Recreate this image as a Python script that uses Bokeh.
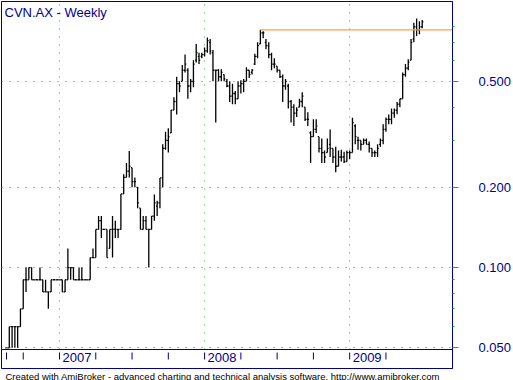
import pandas as pd
from bokeh.plotting import figure
from bokeh.models import Range1d, FixedTicker, Span, Label, PrintfTickFormatter, ColumnDataSource, Title
from bokeh.embed import file_html
from bokeh.resources import INLINE
from bokeh.core.properties import value

title_text = "CVN.AX - Weekly"
footer_text = "Created with AmiBroker - advanced charting and technical analysis software. http://www.amibroker.com"
first_week = "2006-08-25"

opens = [.050, .050, .060, .060, .060, .060, .070, .090, .090, .100,
         .090, .090, .090, .090, .081, .081, .081, .090, .090, .090,
         .090, .081, .090, .100, .100, .090, .090, .090, .090, .090,
         .090, .109, .109, .139, .150, .139, .139, .118, .139, .139,
         .139, .139, .189, .218, .230, .237, .210, .200, .167, .139,
         .150, .139, .139, .156, .170, .175, .217, .280, .300, .320,
         .390, .420, .490, .500, .550, .550, .480, .500, .600, .620,
         .620, .630, .650, .700, .640, .550, .550, .520, .530, .500,
         .480, .440, .450, .430, .480, .490, .500, .550, .540, .580,
         .620, .690, .760, .700, .680, .630, .580, .570, .550, .520,
         .480, .480, .420, .400, .380, .400, .420, .400, .360, .320,
         .310, .330, .310, .280, .270, .270, .290, .280, .260, .240,
         .260, .260, .250, .270, .270, .340, .300, .300, .290, .300,
         .290, .280, .270, .270, .290, .300, .330, .360, .360, .380,
         .390, .410, .430, .530, .560, .600, .720, .800, .780, .800]
highs = [.050, .060, .060, .060, .060, .070, .090, .100, .100, .100,
         .090, .090, .100, .090, .090, .081, .090, .090, .090, .090,
         .090, .090, .118, .100, .100, .090, .100, .100, .090, .090,
         .109, .118, .139, .156, .156, .139, .139, .139, .156, .150,
         .139, .189, .224, .247, .274, .237, .218, .200, .167, .156,
         .156, .139, .156, .188, .178, .217, .290, .323, .333, .390,
         .436, .520, .500, .575, .630, .560, .510, .600, .690, .640,
         .640, .670, .730, .720, .655, .550, .555, .555, .530, .510,
         .500, .490, .460, .500, .505, .510, .564, .550, .555, .635,
         .700, .780, .770, .720, .700, .640, .610, .570, .550, .530,
         .510, .490, .425, .410, .400, .430, .455, .400, .383, .325,
         .360, .360, .310, .305, .275, .305, .330, .280, .284, .275,
         .277, .272, .275, .275, .365, .345, .310, .300, .305, .305,
         .297, .280, .275, .290, .305, .345, .366, .375, .395, .395,
         .418, .430, .540, .580, .605, .720, .830, .860, .840, .850]
lows = [.050, .050, .050, .050, .050, .060, .070, .081, .090, .090,
        .090, .090, .090, .081, .081, .070, .081, .090, .090, .090,
        .081, .081, .090, .090, .090, .090, .090, .090, .090, .090,
        .090, .109, .109, .139, .129, .139, .109, .118, .109, .129,
        .129, .139, .189, .218, .218, .200, .200, .167, .139, .139,
        .139, .100, .139, .150, .156, .167, .200, .277, .270, .320,
        .390, .375, .455, .500, .540, .430, .455, .475, .588, .580,
        .610, .620, .640, .630, .500, .350, .500, .500, .500, .475,
        .418, .410, .410, .430, .450, .455, .500, .515, .530, .575,
        .610, .690, .725, .660, .610, .550, .560, .540, .515, .418,
        .465, .395, .350, .340, .367, .400, .400, .355, .340, .247,
        .310, .320, .270, .247, .247, .270, .260, .247, .228, .240,
        .250, .247, .250, .255, .270, .290, .277, .275, .290, .290,
        .270, .260, .260, .260, .284, .290, .323, .345, .345, .365,
        .376, .400, .430, .520, .550, .600, .700, .740, .750, .790]
closes = [.050, .060, .060, .060, .060, .070, .090, .090, .100, .090,
          .090, .090, .090, .081, .081, .081, .090, .090, .090, .090,
          .081, .090, .100, .100, .090, .090, .090, .090, .090, .090,
          .109, .109, .139, .150, .139, .139, .109, .139, .139, .139,
          .139, .189, .218, .230, .240, .210, .210, .175, .139, .150,
          .139, .139, .156, .175, .175, .217, .280, .300, .310, .390,
          .420, .490, .480, .550, .580, .480, .500, .580, .640, .600,
          .630, .650, .710, .650, .550, .550, .520, .540, .510, .480,
          .440, .450, .430, .480, .490, .500, .550, .530, .550, .620,
          .680, .760, .760, .680, .630, .580, .580, .550, .520, .480,
          .500, .420, .400, .380, .390, .420, .440, .360, .360, .310,
          .330, .340, .280, .270, .260, .280, .280, .260, .240, .260,
          .260, .250, .270, .270, .350, .310, .300, .290, .300, .290,
          .280, .270, .270, .280, .300, .330, .360, .360, .380, .390,
          .410, .430, .530, .560, .590, .700, .800, .780, .800, .835]

price_ticks = [0.05, 0.1, 0.2, 0.5]
price_minor = [0.06, 0.07, 0.08, 0.09, 0.3, 0.4, 0.6, 0.7, 0.8]
quarter_starts = ["2006-10-01", "2007-01-01", "2007-04-01", "2007-07-01", "2007-10-01",
                  "2008-01-01", "2008-04-01", "2008-07-01", "2008-10-01", "2009-01-01",
                  "2009-04-01"]

NAVY = "#00008B"
GREEN = "#00C000"
FONT = "Liberation Sans"

dates = pd.date_range(first_week, periods=len(closes), freq="7D")

# layout: 2.79 px per week, frame 451 x 367 px, log scale 266.5 px per decade
px_week = 2.79
frame_w, frame_h = 451, 367
week = pd.Timedelta(weeks=1)
x_start = dates[0] - week * (5 / px_week)
x_end = x_start + week * (frame_w / px_week)
dec = 266.5
y_hi = 0.05 * 10 ** ((347.3 - 1) / dec)
y_lo = 0.05 * 10 ** ((347.3 - 368) / dec)


def y_at(px):
    return 0.05 * 10 ** ((347.3 - px) / dec)


p = figure(frame_width=frame_w, frame_height=frame_h, y_axis_type="log", y_axis_location="right",
           x_axis_location=None, x_range=Range1d(x_start, x_end),
           y_range=Range1d(y_lo, y_hi), toolbar_location=None, output_backend="svg",
           min_border_left=1, min_border_top=1, min_border_right=61, min_border_bottom=0)
p.background_fill_color = "white"
p.border_fill_color = "white"
p.outline_line_color = NAVY
p.outline_line_width = 1
for g in p.xgrid:
    g.visible = False

ax = p.yaxis[0]
ax.ticker = FixedTicker(ticks=price_ticks, minor_ticks=price_minor)
ax.formatter = PrintfTickFormatter(format="%.3f")
ax.axis_line_color = NAVY
ax.major_tick_line_color = GREEN
ax.major_tick_out = 6
ax.major_tick_in = 0
ax.minor_tick_line_color = GREEN
ax.minor_tick_out = 2
ax.minor_tick_in = 0
ax.major_label_text_color = NAVY
ax.major_label_text_font = FONT
ax.major_label_text_font_size = "13px"
ax.major_label_standoff = 20

p.ygrid.grid_line_color = GREEN
p.ygrid.grid_line_dash = "1 7"
p.ygrid.grid_line_width = 1

# year grid lines at the first bar of each year
years = sorted(set(d.year for d in dates))[1:]
year_first = [dates[[d.year for d in dates].index(y)] for y in years]
p.segment(x0=year_first, x1=year_first, y0=[y_at(349)] * len(year_first),
          y1=[y_hi] * len(year_first), line_color=GREEN, line_dash="1 7", line_width=1)

# date strip
p.add_layout(Span(location=y_at(349), dimension="width", line_color=NAVY, line_width=1))
tick_dates = [dates[0]] + [dates[dates >= pd.Timestamp(q)][0] for q in quarter_starts]
p.segment(x0=tick_dates, x1=tick_dates, y0=[y_at(352)] * len(tick_dates),
          y1=[y_at(359)] * len(tick_dates), line_color=NAVY, line_width=1)
p.text(x=year_first, y=[y_at(352)] * len(year_first), text=[str(y) for y in years],
       text_font=value(FONT), text_font_size=value("13px"), text_color=NAVY,
       text_baseline="top", text_align="left", x_offset=3)

# OHLC bars
tick = pd.Timedelta(days=3)
src = ColumnDataSource(dict(d=dates, dl=dates - tick, dr=dates + tick,
                            o=opens, h=highs, l=lows, c=closes))
for kw in (dict(x0="d", x1="d", y0="l", y1="h"),
           dict(x0="dl", x1="d", y0="o", y1="o"),
           dict(x0="d", x1="dr", y0="c", y1="c")):
    p.segment(source=src, line_color="black", line_width=1.3, **kw)

# 2008 high level line
idx08 = [i for i, d in enumerate(dates) if d.year == 2008]
peak = max(idx08, key=lambda i: highs[i])
p.segment(x0=[dates[peak]], x1=[x_end], y0=[highs[peak]], y1=[highs[peak]],
          line_color="#FFA040", line_width=1.2)

# texts
p.add_layout(Label(x=3, y=368 - 4, x_units="screen", y_units="screen", text=title_text,
                   text_font=FONT, text_font_size="13px", text_color=NAVY,
                   text_baseline="top", text_align="left"))
p.add_layout(Label(x=452, y=closes[-1], x_units="screen", y_units="data",
                   text=f"{closes[-1]:.3f}", text_font=FONT, text_font_size="13px",
                   text_color="white", background_fill_color="black",
                   text_baseline="middle", text_align="left", padding=2))
p.add_layout(Title(text=footer_text, text_font=FONT, text_font_size="9.5px",
                   text_color="black", text_font_style="normal", align="left",
                   offset=4, standoff=0), "below")

open("out.html", "w").write(file_html(p, INLINE))
